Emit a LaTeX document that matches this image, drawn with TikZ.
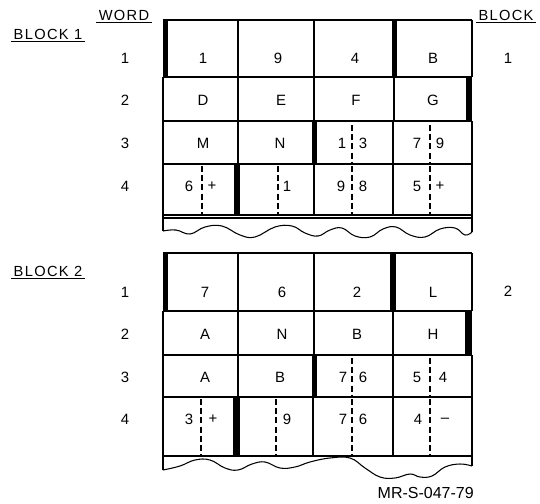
\documentclass[tikz,border=0pt]{standalone}
\usepackage{fontspec}
\setmainfont{Liberation Sans}
\begin{document}
\begin{tikzpicture}[x=0.75pt,y=-0.75pt,
  cell/.style={line width=0.8pt},
  sep/.style={line width=0.8pt,dash pattern=on 4.5pt off 2.4pt},
  bar/.style={fill=black},
  wave/.style={line width=0.8pt},
  txt/.style={font=\fontsize{11.2}{13}\selectfont, inner sep=0pt},
  lab/.style={font=\fontsize{11}{13}\selectfont\addfontfeatures{LetterSpace=9}, inner sep=1.6pt},
  uline/.style={line width=0.7pt}
]
\useasboundingbox (0,0) rectangle (540,504);

% ---------- labels ----------
\node[lab] (wordlab) at (124,15) {WORD};
\draw[uline] (wordlab.south west) -- (wordlab.south east);
\node[lab] (blocklab) at (506,15) {BLOCK};
\draw[uline] (blocklab.south west) -- (blocklab.south east);
\node[lab] (blk1lab) at (48,34) {BLOCK 1};
\draw[uline] (blk1lab.south west) -- (blk1lab.south east);
\node[lab] (blk2lab) at (48,271) {BLOCK 2};
\draw[uline] (blk2lab.south west) -- (blk2lab.south east);

\node[txt] (w11) at (125,58) {1};
\node[txt] (w12) at (125,100) {2};
\node[txt] (w13) at (125,143) {3};
\node[txt] (w14) at (125,186) {4};
\node[txt] (w21) at (125,292) {1};
\node[txt] (w22) at (125,334) {2};
\node[txt] (w23) at (125,377) {3};
\node[txt] (w24) at (125,419) {4};
\node[txt] (bn1) at (508,58) {1};
\node[txt] (bn2) at (508,291) {2};

% ---------- block 1 ----------
\foreach \y in {20,77,121,164,215,218} \draw[cell] (163,\y) -- (472,\y);
% row 1
\fill[bar] (163,20) rectangle (168,77);
\foreach \x in {238,314} \draw[cell] (\x,20) -- (\x,77);
\fill[bar] (392,20) rectangle (397,77);
\draw[cell] (472,20) -- (472,77);
% row 2
\foreach \x in {163,238,314,394} \draw[cell] (\x,77) -- (\x,121);
\fill[bar] (466,77) rectangle (472,121);
% row 3
\foreach \x in {163,238,393,472} \draw[cell] (\x,121) -- (\x,164);
\fill[bar] (312,121) rectangle (317,164);
\foreach \x in {352,430} \draw[sep] (\x,125) -- (\x,164);
% row 4
\draw[cell] (163,164) -- (163,231);
\draw[cell] (472,164) -- (472,232);
\foreach \x in {314,393} \draw[cell] (\x,164) -- (\x,215);
\fill[bar] (234,164) rectangle (240,215);
\foreach \x in {202,278,352,430} \draw[sep] (\x,166) -- (\x,215);
% wave
\draw[wave] plot[smooth,tension=0.7] coordinates {(163,231) (176,230) (190,234) (205,227) (222,226) (240,235) (255,237) (275,227) (292,226) (305,233) (318,236) (330,230) (342,228) (355,236) (370,237) (383,229) (396,227) (410,235) (425,237) (440,229) (455,228) (465,235) (472,232)};

% block 1 texts
\node[txt] (a11) at (203,58) {1};
\node[txt] (a12) at (278,58) {9};
\node[txt] (a13) at (355,58) {4};
\node[txt] (a14) at (433,58) {B};
\node[txt] (a21) at (203,100) {D};
\node[txt] (a22) at (281,100) {E};
\node[txt] (a23) at (356,100) {F};
\node[txt] (a24) at (433,100) {G};
\node[txt] (a31) at (203,143) {M};
\node[txt] (a32) at (280,143) {N};
\node[txt] (a33) at (342,143) {1};
\node[txt] (a34) at (363,143) {3};
\node[txt] (a35) at (417,143) {7};
\node[txt] (a36) at (440,143) {9};
\node[txt] (a41) at (189,186) {6};
\node[txt] (a42) at (212,186) {+};
\node[txt] (a43) at (287,186) {1};
\node[txt] (a44) at (341,186) {9};
\node[txt] (a45) at (363,186) {8};
\node[txt] (a46) at (417,186) {5};
\node[txt] (a47) at (440,186) {+};

% ---------- block 2 ----------
\foreach \y in {253,311,355,397,456} \draw[cell] (163,\y) -- (472,\y);
% row 1
\fill[bar] (163,253) rectangle (168,311);
\foreach \x in {238,314} \draw[cell] (\x,253) -- (\x,311);
\fill[bar] (390,253) rectangle (396,311);
\draw[cell] (472,253) -- (472,311);
% row 2
\foreach \x in {163,238,314,393} \draw[cell] (\x,311) -- (\x,355);
\fill[bar] (465,311) rectangle (472,355);
% row 3
\foreach \x in {163,238,393,472} \draw[cell] (\x,355) -- (\x,397);
\fill[bar] (312,355) rectangle (317,397);
\foreach \x in {352,430} \draw[sep] (\x,358) -- (\x,397);
% row 4
\draw[cell] (163,397) -- (163,470);
\draw[cell] (472,397) -- (472,466);
\foreach \x in {313,393} \draw[cell] (\x,397) -- (\x,456);
\fill[bar] (233,397) rectangle (240,456);
\foreach \x in {201,276,352,430} \draw[sep] (\x,399) -- (\x,456);
% wave
\draw[wave] plot[smooth,tension=0.7] coordinates {(163,470) (180,466) (195,460) (210,460) (225,468) (238,470) (252,464) (265,462) (280,468) (295,467) (310,462) (330,458) (350,458) (365,468) (380,477) (395,478) (410,474) (420,477) (432,476) (445,467) (460,464) (472,466)};

% block 2 texts
\node[txt] (b11) at (205,292) {7};
\node[txt] (b12) at (282,292) {6};
\node[txt] (b13) at (357,292) {2};
\node[txt] (b14) at (433,292) {L};
\node[txt] (b21) at (205,334) {A};
\node[txt] (b22) at (282,334) {N};
\node[txt] (b23) at (357,334) {B};
\node[txt] (b24) at (433,334) {H};
\node[txt] (b31) at (205,377) {A};
\node[txt] (b32) at (280,377) {B};
\node[txt] (b33) at (343,377) {7};
\node[txt] (b34) at (363,377) {6};
\node[txt] (b35) at (417,377) {5};
\node[txt] (b36) at (443,377) {4};
\node[txt] (b41) at (189,419) {3};
\node[txt] (b42) at (213,419) {+};
\node[txt] (b43) at (287,419) {9};
\node[txt] (b44) at (343,419) {7};
\node[txt] (b45) at (363,419) {6};
\node[txt] (b46) at (418,419) {4};
\node[txt] (b47) at (445,420) {–};

\node[txt, font=\fontsize{12}{14}\selectfont, anchor=east] (figid) at (474,493) {MR-S-047-79};
\end{tikzpicture}
\end{document}
